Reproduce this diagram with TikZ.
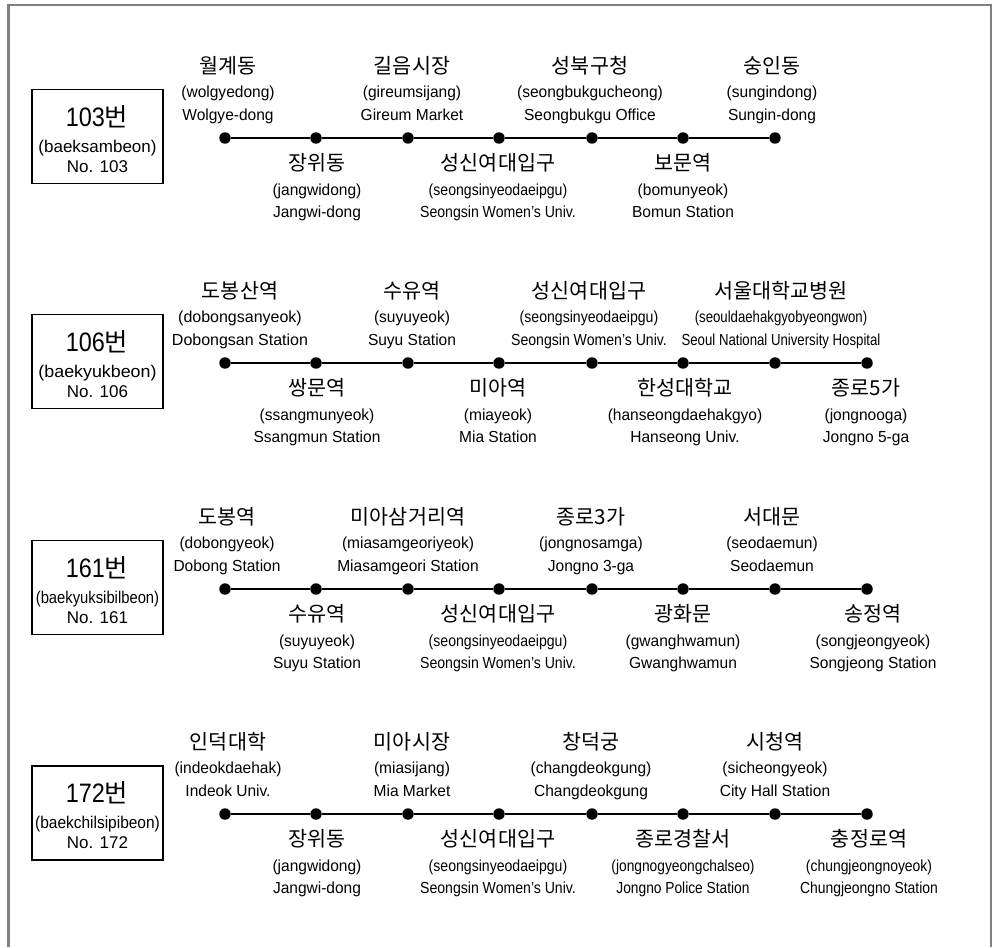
\documentclass[tikz,border=0pt]{standalone}
\usepackage{fontspec}
\usepackage{graphicx}
\setmainfont{Liberation Sans}
\newfontfamily\kr{Noto Sans CJK KR}
\definecolor{framegray}{RGB}{128,128,128}
\tikzset{
  dot/.style={circle, fill=black, draw=none, inner sep=0pt, minimum size=8.6pt},
  kr/.style={anchor=base, inner sep=0pt, font=\kr\fontsize{15.5pt}{17pt}\selectfont},
  lt/.style={anchor=base, inner sep=0pt, font=\fontsize{12pt}{14pt}\selectfont},
  busbox/.style={draw=black, line width=1.1pt, minimum width=98.25pt, minimum height=70.5pt, inner sep=0pt},
  bt/.style={anchor=base, inner sep=0pt, font=\fontsize{20pt}{22pt}\selectfont},
  bs/.style={anchor=base, inner sep=0pt, font=\fontsize{12.75pt}{14pt}\selectfont},
  route/.style={line width=1pt, draw=black},
  framestyle/.style={line width=1.9pt, draw=framegray, line join=miter},
}
% station above the line
\newcommand\stA[8][0.97]{%
  \node[dot] (#2) at (#3,#4) {};
  \node[kr] (#2k) at (#5,#4-65) {#6};
  \node[lt] (#2r) at (#5,#4-41) {\scalebox{#1}[1]{#7}};
  \node[lt] (#2e) at (#5,#4-17.5) {\scalebox{#1}[1]{#8}};
}
% station below the line
\newcommand\stB[8][0.97]{%
  \node[dot] (#2) at (#3,#4) {};
  \node[kr] (#2k) at (#5,#4+32) {#6};
  \node[lt] (#2r) at (#5,#4+57) {\scalebox{#1}[1]{#7}};
  \node[lt] (#2e) at (#5,#4+79.5) {\scalebox{#1}[1]{#8}};
}
% bus box
\newcommand\bus[5]{%
  \node[busbox] (#1) at (97.5,#2-1.25) {};
  \node[bt] (#1t) at (97,#2-11.5) {\scalebox{0.88}[1]{#3}{\kr\fontsize{19pt}{21pt}\selectfont 번}};
  \node[bs] (#1r) at (97.5,#2+14) {\scalebox{#5}[1]{#4}};
  \node[bs] (#1n) at (97.5,#2+34) {No. #3};
}
\begin{document}
\begin{tikzpicture}[x=0.75pt,y=-0.75pt]
\useasboundingbox (0,0) rectangle (994,947);
\draw[framestyle] (8.7,947) -- (8.7,5.2) -- (991,5.2) -- (991,947);

% ---- 103 ----
\bus{bA}{138}{103}{(baeksambeon)}{1.0}
\stA{a0}{225}{138}{228}{월계동}{(wolgyedong)}{Wolgye-dong}
\stB{a1}{316}{138}{317}{장위동}{(jangwidong)}{Jangwi-dong}
\stA{a2}{408}{138}{412}{길음시장}{(gireumsijang)}{Gireum Market}
\stB[0.88]{a3}{499}{138}{498}{성신여대입구}{(seongsinyeodaeipgu)}{Seongsin Women’s Univ.}
\stA{a4}{592}{138}{590}{성북구청}{(seongbukgucheong)}{Seongbukgu Office}
\stB{a5}{683}{138}{683}{보문역}{(bomunyeok)}{Bomun Station}
\stA{a6}{775}{138}{772}{숭인동}{(sungindong)}{Sungin-dong}
\draw[route] (a0) -- (a1) -- (a2) -- (a3) -- (a4) -- (a5) -- (a6);

% ---- 106 ----
\bus{bB}{363}{106}{(baekyukbeon)}{1.05}
\stA[1.0]{b0}{225}{363}{240}{도봉산역}{(dobongsanyeok)}{Dobongsan Station}
\stB{b1}{316}{363}{317}{쌍문역}{(ssangmunyeok)}{Ssangmun Station}
\stA{b2}{408}{363}{412}{수유역}{(suyuyeok)}{Suyu Station}
\stB{b3}{499}{363}{498}{미아역}{(miayeok)}{Mia Station}
\stA[0.88]{b4}{592}{363}{589}{성신여대입구}{(seongsinyeodaeipgu)}{Seongsin Women’s Univ.}
\stB{b5}{683}{363}{685}{한성대학교}{(hanseongdaehakgyo)}{Hanseong Univ.}
\stA[0.825]{b6}{775}{363}{781}{서울대학교병원}{(seouldaehakgyobyeongwon)}{Seoul National University Hospital}
\stB{b7}{867}{363}{866}{종로5가}{(jongnooga)}{Jongno 5-ga}
\draw[route] (b0) -- (b1) -- (b2) -- (b3) -- (b4) -- (b5) -- (b6) -- (b7);

% ---- 161 ----
\bus{bC}{589}{161}{(baekyuksibilbeon)}{0.87}
\stA{c0}{225}{589}{227}{도봉역}{(dobongyeok)}{Dobong Station}
\stB{c1}{316}{589}{317}{수유역}{(suyuyeok)}{Suyu Station}
\stA{c2}{408}{589}{408}{미아삼거리역}{(miasamgeoriyeok)}{Miasamgeori Station}
\stB[0.88]{c3}{499}{589}{498}{성신여대입구}{(seongsinyeodaeipgu)}{Seongsin Women’s Univ.}
\stA{c4}{592}{589}{591}{종로3가}{(jongnosamga)}{Jongno 3-ga}
\stB{c5}{683}{589}{683}{광화문}{(gwanghwamun)}{Gwanghwamun}
\stA{c6}{775}{589}{772}{서대문}{(seodaemun)}{Seodaemun}
\stB{c7}{867}{589}{873}{송정역}{(songjeongyeok)}{Songjeong Station}
\draw[route] (c0) -- (c1) -- (c2) -- (c3) -- (c4) -- (c5) -- (c6) -- (c7);

% ---- 172 ----
\bus{bD}{814}{172}{(baekchilsipibeon)}{0.91}
\stA{d0}{225}{814}{228}{인덕대학}{(indeokdaehak)}{Indeok Univ.}
\stB{d1}{316}{814}{317}{장위동}{(jangwidong)}{Jangwi-dong}
\stA{d2}{408}{814}{412}{미아시장}{(miasijang)}{Mia Market}
\stB[0.88]{d3}{499}{814}{498}{성신여대입구}{(seongsinyeodaeipgu)}{Seongsin Women’s Univ.}
\stA{d4}{592}{814}{591}{창덕궁}{(changdeokgung)}{Changdeokgung}
\stB[0.86]{d5}{683}{814}{683}{종로경찰서}{(jongnogyeongchalseo)}{Jongno Police Station}
\stA{d6}{775}{814}{775}{시청역}{(sicheongyeok)}{City Hall Station}
\stB[0.87]{d7}{867}{814}{869}{충정로역}{(chungjeongnoyeok)}{Chungjeongno Station}
\draw[route] (d0) -- (d1) -- (d2) -- (d3) -- (d4) -- (d5) -- (d6) -- (d7);
\end{tikzpicture}
\end{document}
